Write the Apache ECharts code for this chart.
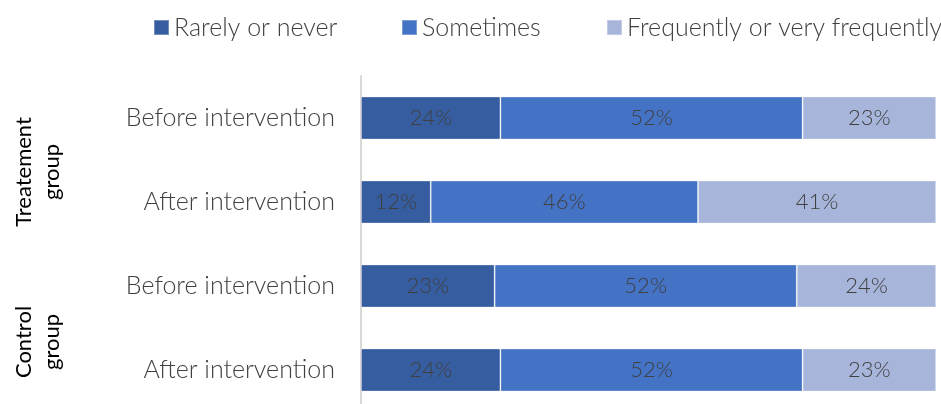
<!DOCTYPE html>
<html>
<head>
<meta charset="utf-8">
<script src="https://cdn.jsdelivr.net/npm/echarts@6/dist/echarts.min.js"></script>
<style>
  html, body { margin: 0; padding: 0; background: #fff; }
  #chart { width: 941px; height: 404px; }
</style>
</head>
<body>
<div id="chart"></div>
<script>
// Rows, top to bottom
const categories = ['Before intervention', 'After intervention', 'Before intervention', 'After intervention'];
// Group captions shown on the left, one per pair of rows
const groupLabels = ['Treatement\ngroup', 'Control\ngroup'];
// Share of answers per row (%)
const seriesNames = ['Rarely or never', 'Sometimes', 'Frequently or very frequently'];
const rarelyOrNever = [24, 12, 23, 24];
const sometimes = [52, 46, 52, 52];
const frequently = [23, 41, 24, 23];

const colors = ['#365D9F', '#4472C4', '#A7B5DB'];
const FONT = 'Lato, "Open Sans", sans-serif';
const TEXT = '#404040';

const chart = echarts.init(document.getElementById('chart'), null, { renderer: 'canvas' });

const values = [rarelyOrNever, sometimes, frequently];
const series = seriesNames.map((name, i) => ({
  name,
  type: 'bar',
  stack: 'total',
  barWidth: 43,
  data: values[i],
  itemStyle: { color: colors[i], borderColor: 'rgba(255,255,255,0.3)', borderWidth: 1 },
  label: {
    show: true,
    position: 'inside',
    formatter: '{c}%',
    color: TEXT,
    fontFamily: FONT,
    fontWeight: 300,
    fontSize: 22
  },
  emphasis: { disabled: true }
}));

const legendLefts = [148, 396, 601];
const legends = seriesNames.map((name, i) => ({
  data: [name],
  left: legendLefts[i],
  top: 10,
  itemWidth: 15,
  itemHeight: 15,
  itemGap: 7,
  icon: 'rect',
  textStyle: { color: TEXT, fontFamily: FONT, fontSize: 25, fontWeight: 300 }
}));

const groupCenters = [172, 342];
const graphics = groupLabels.map((t, i) => ({
  type: 'text',
  x: 38,
  y: groupCenters[i],
  rotation: Math.PI / 2,
  style: {
    text: t,
    fill: '#000',
    font: '22px ' + FONT,
    textAlign: 'center',
    textVerticalAlign: 'middle',
    lineHeight: 28
  }
}));

chart.setOption({
  animation: false,
  color: colors,
  legend: legends,
  grid: { left: 361, top: 76, right: -1, bottom: -8, containLabel: false, outerBoundsMode: 'none' },
  xAxis: {
    type: 'value',
    min: 0,
    max: 100,
    show: false
  },
  yAxis: {
    type: 'category',
    data: categories,
    inverse: true,
    axisLine: { show: true, lineStyle: { color: '#D9D9D9', width: 2 } },
    axisTick: { show: false },
    axisLabel: {
      color: TEXT,
      fontFamily: FONT,
      fontSize: 25,
      fontWeight: 300,
      margin: 26
    }
  },
  graphic: graphics,
  series
});
</script>
</body>
</html>
